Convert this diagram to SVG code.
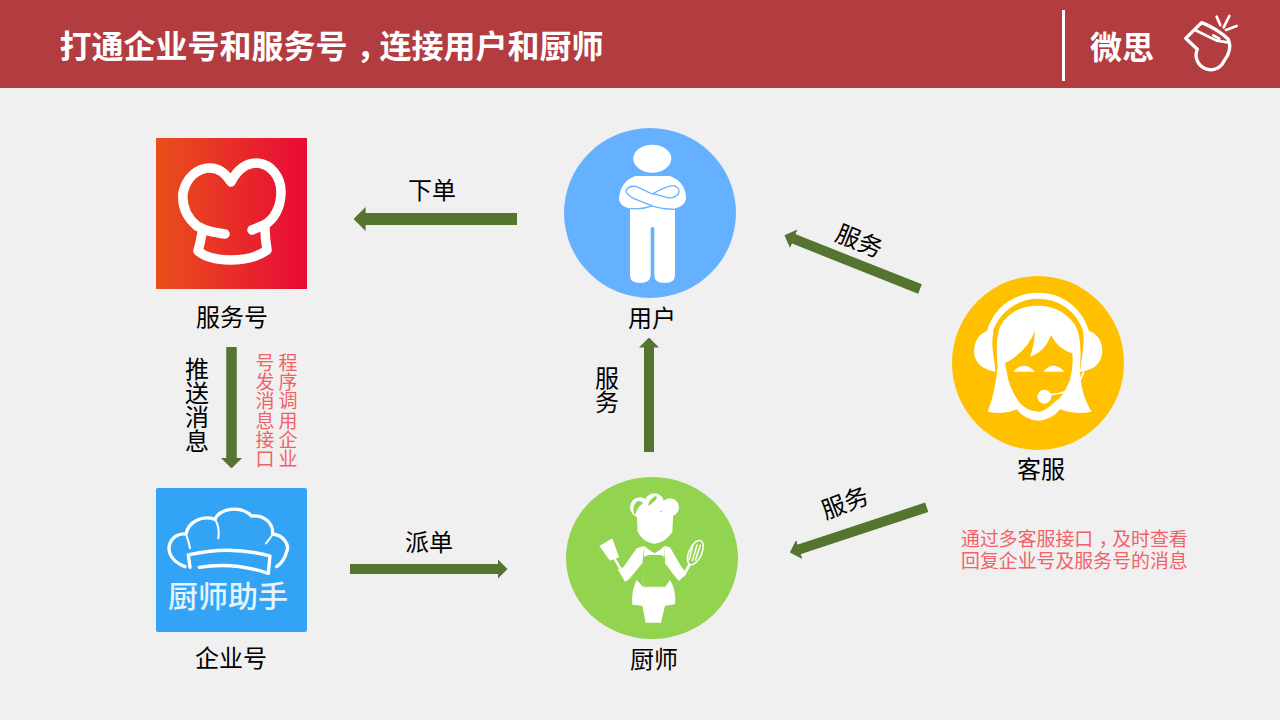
<svg xmlns="http://www.w3.org/2000/svg" width="1280" height="720" viewBox="0 0 1280 720">
<style>
text{font-family:"Noto Sans CJK SC","Noto Sans",sans-serif}
.lbl{font-size:24px;fill:#000;text-anchor:middle}
.red{font-size:18.900px;fill:#f0626a}
.vred{font-size:19px;fill:#f0626a;text-anchor:middle}
.ttl{font-size:32px;font-weight:700;fill:#fff}
.w{fill:#fff}
.wl{fill:none;stroke:#fff;stroke-linecap:round;stroke-linejoin:round}
.arrow{fill:none;stroke:#54742f}
</style>
<defs>
<linearGradient id="g1" x1="0" x2="1" y1="0" y2="0"><stop offset="0" stop-color="#e9501a"/><stop offset="1" stop-color="#e80a36"/></linearGradient>
<marker id="ah" markerUnits="strokeWidth" markerWidth="1" markerHeight="2" viewBox="0 0 1 2" refX="0.050" refY="1" orient="auto"><path d="M0 0L1 1L0 2Z" fill="#54742f"/></marker>
</defs>
<rect width="1280" height="720" fill="#f0f0f0"/>
<g id="header">
<rect width="1280" height="88" fill="#b23c40"/>
<text class="ttl" x="59.500" y="58">打通企业号和服务号<tspan dx="9">，</tspan><tspan dx="-9">连接用户和厨师</tspan></text>
<rect x="1062" y="10" width="3" height="71" fill="#fff"/>
<text class="ttl" x="1090" y="59">微思</text>
<g transform="translate(1040 0) scale(.3333)" stroke-width="10" class="wl">
<path d="M437 115L485 68Q530 85 565 118Q578 150 552 183A42 42 0 1 1 472 148Z"/>
<path d="M465 90L530 122L568 128M520 106L538 116" stroke-width="8"/>
<path d="M530 50L541 75M568 48L551 82M590 78L558 90" stroke-width="8"/>
</g>
</g>
<g id="connectors">
<line class="arrow" x1="517" y1="219" x2="365" y2="219" stroke-width="12" marker-end="url(#ah)"/>
<line class="arrow" x1="231.500" y1="347" x2="231.500" y2="458.500" stroke-width="10.500" marker-end="url(#ah)"/>
<line class="arrow" x1="350" y1="569" x2="498" y2="569" stroke-width="10" marker-end="url(#ah)"/>
<line class="arrow" x1="649" y1="452" x2="649" y2="347" stroke-width="10" marker-end="url(#ah)"/>
<line class="arrow" x1="920" y1="289" x2="793.300" y2="238.700" stroke-width="10" marker-end="url(#ah)"/>
<line class="arrow" x1="926.700" y1="507.300" x2="798.800" y2="549.600" stroke-width="10" marker-end="url(#ah)"/>
</g>
<g id="node-fuwuhao">
<rect x="156" y="138" width="151" height="151" fill="url(#g1)"/>
<path class="wl" stroke-width="9.500" d="M225 234C212 232 206 231 197 226C185 216 182 204 183 193C186 178 197 168 210 168C220 168 226 174 231 182C236 172 244 163 257 163C272 164 281 178 281 192C281 207 274 220 264 225L252 230M265 228C265 236 266 244 267 250C258 257 245 260 230 260C215 260 205 257 198 251C200 244 201 239 202 233"/>
<text class="lbl" x="232" y="326">服务号</text>
</g>
<g id="node-qiyehao">
<rect x="156" y="488" width="151" height="144" rx="2" fill="#33a4f5"/>
<g transform="translate(140 480) scale(.3333)" class="wl" stroke-width="10">
<path d="M135 260C95 245 80 215 90 190C100 165 125 160 138 162C145 125 185 105 225 118C240 85 300 75 335 108C375 105 400 130 398 162C430 165 450 195 440 215C435 235 425 250 410 260"/>
<path d="M225 118C235 135 238 155 235 175M398 162C395 170 385 180 378 190M138 162C142 175 148 190 150 205" stroke-width="6"/>
<path d="M150 262L145 225Q270 195 390 228L385 280M178 262Q280 245 385 280"/>
</g>
<text x="228" y="607" font-size="30" font-weight="500" fill="#e6f3fd" text-anchor="middle">厨师助手</text>
<text class="lbl" x="231" y="667">企业号</text>
</g>
<g id="node-user">
<ellipse cx="650" cy="213" rx="86" ry="85" fill="#66b1ff"/>
<ellipse class="w" cx="652.300" cy="158.700" rx="19" ry="14"/>
<path class="w" d="M630 195H675V275Q675 283 665 283Q654 283 654.300 275V228Q652.500 226 650.700 228V275Q650.500 283 640 283Q630 283 630 275Z"/>
<path class="w" d="M635 176H670Q686 182 686 199Q684 208 670 209H635Q620 208 619 199Q620 182 635 176Z"/>
<path transform="translate(555 120) scale(.3333)" fill="none" stroke="#66b1ff" stroke-width="4" d="M213 212Q222 195 245 200L292 222Q340 195 358 197Q378 205 370 222Q355 238 335 232L292 220M213 212Q215 225 235 235L292 258Q320 268 360 268M225 265Q260 270 292 258"/>
<text class="lbl" x="652" y="327">用户</text>
</g>
<g id="node-chef">
<ellipse cx="652" cy="558" rx="86" ry="81" fill="#92d34f"/>
<g transform="translate(555 470) scale(.3333)">
<circle class="w" cx="255" cy="112" r="30"/><circle class="w" cx="345" cy="112" r="27"/><circle class="w" cx="298" cy="100" r="30"/>
<path fill="#92d34f" d="M236 128Q232 105 248 93Q258 92 264 100Q248 110 240 135ZM278 108Q285 84 302 78Q310 82 300 92Q290 102 278 108Z"/>
<path class="w" d="M245 125H355L352 185Q335 215 298 222Q262 215 248 185Z"/>
<path class="w" d="M268 228L245 235L205 292L188 298L210 335L222 328L262 280ZM328 228L345 232L380 292L395 310L372 333L362 322L330 280Z"/>
<path class="w" d="M268 228L280 238L298 250L318 238L328 228L330 352H265Z"/>
<path fill="#92d34f" d="M265 262L280 255H318L330 262V350H265Z"/>
<path class="w" d="M245 330Q228 365 232 404L262 407L272 458H318L330 407L360 403Q365 362 345 330L330 352H265Z"/>
<path class="w" d="M133 228L172 205L192 262L165 272Z"/>
<path class="wl" stroke-width="7" d="M178 265L200 302"/>
<g class="wl" stroke-width="4.500"><ellipse cx="421" cy="248" rx="19" ry="39" transform="rotate(25 421 248)"/><path d="M413 228L402 270M426 225L412 272M436 226L421 270"/></g>
<path class="wl" stroke-width="8" d="M403 285L386 316"/>
</g>
<text class="lbl" x="654" y="668">厨师</text>
</g>
<g id="node-service">
<ellipse cx="1038" cy="363" rx="86" ry="87" fill="#ffc000"/>
<g transform="translate(945 270) scale(.3333)">
<path class="w" d="M126 182C150 100 220 68 280 68C340 68 405 100 432 182L416 188C395 118 335 86 280 86C225 86 165 118 142 188Z"/>
<path class="w" d="M132 180Q88 195 87 245Q90 295 152 305L143 240Q140 205 146 185ZM426 180Q472 195 472 245Q468 298 405 305L414 240Q418 205 414 185Z"/>
<path class="w" d="M279 107Q200 107 165 170Q150 210 158 290Q150 370 128 425Q180 435 215 418Q240 450 280 452Q320 450 345 418Q390 435 440 425Q405 370 405 290Q412 200 390 165Q350 107 279 107Z"/>
<path fill="#ffc000" d="M180 280Q245 245 270 182Q268 225 255 260Q300 245 318 195Q340 238 382 250Q386 290 375 330Q352 385 330 395Q300 425 280 425Q250 425 225 400Q200 365 190 330Z"/>
<path class="w" d="M205 305Q235 270 270 305ZM295 305Q325 270 358 305Z"/>
<circle class="w" cx="298" cy="380" r="21"/>
<path class="wl" stroke-width="5" d="M315 374Q375 370 402 340L416 306"/>
</g>
<text class="lbl" x="1041" y="478">客服</text>
</g>
<g id="labels">
<text class="lbl" x="432" y="199">下单</text>
<text class="lbl" x="429" y="551">派单</text>
<text class="lbl" transform="translate(856 249) rotate(22)">服务</text>
<text class="lbl" transform="translate(848 511) rotate(-21)">服务</text>
<text class="lbl"><tspan x="607" y="387">服</tspan><tspan x="607" y="411">务</tspan></text>
<text class="lbl"><tspan x="197" y="378">推</tspan><tspan x="197" y="402">送</tspan><tspan x="197" y="426">消</tspan><tspan x="197" y="450">息</tspan></text>
<text class="vred"><tspan x="288" y="370">程</tspan><tspan x="288" y="389.200">序</tspan><tspan x="288" y="408.400">调</tspan><tspan x="288" y="427.600">用</tspan><tspan x="288" y="446.800">企</tspan><tspan x="288" y="466">业</tspan></text>
<text class="vred"><tspan x="265" y="370">号</tspan><tspan x="265" y="389.200">发</tspan><tspan x="265" y="408.400">消</tspan><tspan x="265" y="427.600">息</tspan><tspan x="265" y="446.800">接</tspan><tspan x="265" y="466">口</tspan></text>
<text class="red" x="961" y="546">通过多客服接口<tspan dx="5.500">，</tspan><tspan dx="-5.500">及时查看</tspan></text>
<text class="red" x="961" y="568">回复企业号及服务号的消息</text>
</g>
</svg>
